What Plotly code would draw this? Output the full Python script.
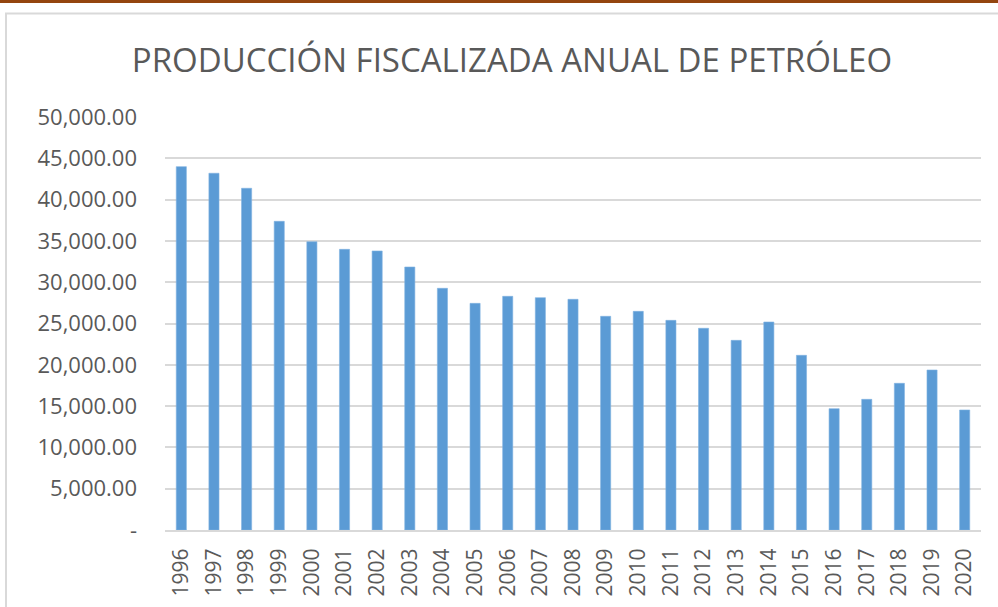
import plotly.graph_objects as go

years = [str(y) for y in range(1996, 2021)]
production = [43990, 43190, 41370, 37370, 34900, 33980, 33780, 31840, 29260,
              27440, 28290, 28130, 27930, 25870, 26470, 25380, 24420, 22960,
              25180, 21150, 14690, 15820, 17760, 19370, 14530]

y_tick_vals = [0, 5000, 10000, 15000, 20000, 25000, 30000, 35000, 40000, 45000, 50000]
y_tick_text = ["-", "5,000.00", "10,000.00", "15,000.00", "20,000.00", "25,000.00",
               "30,000.00", "35,000.00", "40,000.00", "45,000.00", "50,000.00"]

title_text = "PRODUCCIÓN FISCALIZADA ANUAL DE PETRÓLEO"

fig = go.Figure(go.Bar(
    x=years, y=production,
    marker=dict(color="#5B9BD5", line=dict(color="#7fb2e0", width=0.6)),
    width=0.31,
))

L, R, T, B = 165, 17, 117, 77
W, H = 998, 607
pw = W - L - R
ph = H - T - B

def px_x(px):
    return (px - L) / pw

def px_y(py):
    return (H - B - py) / ph

fig.update_layout(
    width=W, height=H,
    margin=dict(l=L, r=R, t=T, b=B),
    paper_bgcolor="white", plot_bgcolor="white",
    showlegend=False,
    title=dict(text=title_text, x=0.513, xanchor="center", y=1 - 60 / H, yanchor="middle",
               font=dict(family="Open Sans", size=33, color="#595959")),
    font=dict(family="Open Sans", color="#595959"),
    xaxis=dict(type="category", tickangle=-90, showgrid=False, showline=True,
               linecolor="#d9d9d9", linewidth=2, ticks="",
               tickfont=dict(size=21, color="#595959"), ticklabelstandoff=8),
    yaxis=dict(range=[0, 50000], tickvals=y_tick_vals, ticktext=y_tick_text,
               showgrid=True, gridcolor="#d9d9d9", gridwidth=2, zeroline=False,
               showline=False, ticks="", tickfont=dict(size=22, color="#595959"),
               ticklabelstandoff=27),
    shapes=[
        dict(type="rect", xref="paper", yref="paper",
             x0=px_x(6), x1=px_x(1010), y0=px_y(640), y1=px_y(13.5),
             line=dict(color="#d9d9d9", width=2), fillcolor="rgba(0,0,0,0)", layer="below"),
        dict(type="rect", xref="paper", yref="paper",
             x0=px_x(-5), x1=px_x(1010), y0=px_y(3), y1=px_y(-5),
             line=dict(width=0), fillcolor="#94450f"),
    ],
)

fig.write_html("out.html",
               config={"displayModeBar": False},
               post_script="document.body.style.margin='0';document.body.style.overflow='hidden';")
